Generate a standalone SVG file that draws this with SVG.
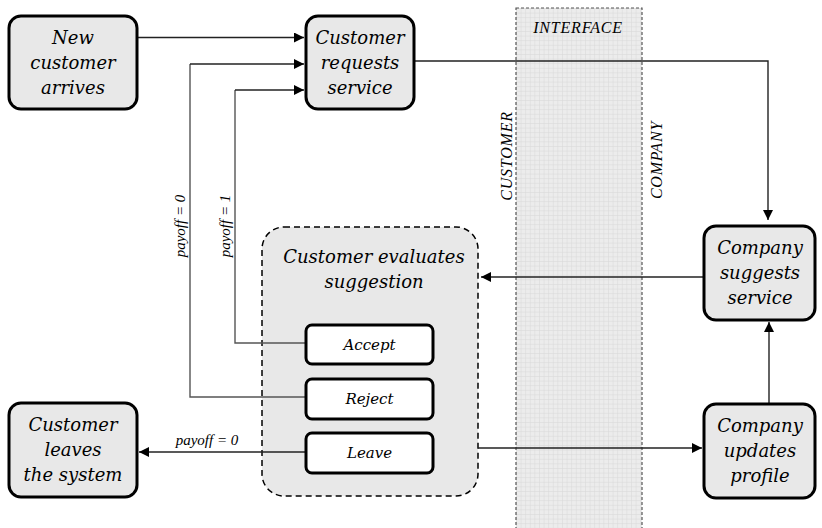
<svg xmlns="http://www.w3.org/2000/svg" width="822" height="528" viewBox="0 0 822 528">
<defs>
<pattern id="grid" width="4.6" height="4.6" patternUnits="userSpaceOnUse" x="516" y="8">
<rect width="4.6" height="4.6" fill="#ececec"/>
<path d="M0 0.3H4.6M0.3 0V4.6" stroke="#d9d9d9" stroke-width="0.6" fill="none"/>
</pattern>
<marker id="ah" viewBox="0 0 10 10" refX="10" refY="5" markerWidth="10" markerHeight="10" markerUnits="userSpaceOnUse" orient="auto">
<path d="M0 0L10 5L0 10z" fill="#000"/>
</marker>
<style>
.node{fill:#e8e8e8;stroke:#000;stroke-width:3}
.opt{fill:#fff;stroke:#000;stroke-width:3}
.c{fill:none;stroke:#222;stroke-width:1.4}
.cg{fill:none;stroke:#555;stroke-width:1.4}
</style>
</defs>
<rect width="822" height="528" fill="#fff"/>
<g id="interface">
<rect x="516" y="8" width="126" height="530" fill="url(#grid)" stroke="#555" stroke-width="1.2" stroke-dasharray="3 2"/>
<text x="578" y="33" font-family="Liberation Serif" font-style="italic" font-size="16" letter-spacing="0.8" text-anchor="middle">INTERFACE</text>
<text transform="translate(512,156) rotate(-90)" font-family="Liberation Serif" font-style="italic" font-size="16" letter-spacing="0.8" text-anchor="middle">CUSTOMER</text>
<text transform="translate(662,160) rotate(-90)" font-family="Liberation Serif" font-style="italic" font-size="16" letter-spacing="0.8" text-anchor="middle">COMPANY</text>
</g>
<g id="evaluate">
<rect x="262" y="227" width="216" height="269" rx="22" fill="#e8e8e8" stroke="#000" stroke-width="1.5" stroke-dasharray="6 4"/>
<text x="374" y="263" font-family="DejaVu Serif" font-style="italic" font-size="18" text-anchor="middle">Customer evaluates</text>
<text x="374" y="288" font-family="DejaVu Serif" font-style="italic" font-size="18" text-anchor="middle">suggestion</text>
</g>
<g id="connectors">
<path class="c" d="M137 37.5H304" marker-end="url(#ah)"/>
<path class="cg" d="M306 397H190V64"/>
<path class="c" d="M190 64H304" marker-end="url(#ah)"/>
<path class="cg" d="M306 343H235V90"/>
<path class="c" d="M235 90H304" marker-end="url(#ah)"/>
<path class="c" d="M414 61H768V220" marker-end="url(#ah)"/>
<path class="c" d="M704 277H481" marker-end="url(#ah)"/>
<path class="c" d="M769 404V322" marker-end="url(#ah)"/>
<path class="c" d="M478 448H702" marker-end="url(#ah)"/>
<path class="c" d="M306 452H139" marker-end="url(#ah)"/>
<text x="207" y="445" font-family="Liberation Serif" font-style="italic" font-size="15" text-anchor="middle">payoff = 0</text>
<text transform="translate(185,226) rotate(-90)" font-family="Liberation Serif" font-style="italic" font-size="15" text-anchor="middle">payoff = 0</text>
<text transform="translate(230,226) rotate(-90)" font-family="Liberation Serif" font-style="italic" font-size="15" text-anchor="middle">payoff = 1</text>
</g>
<g id="new-customer">
<rect class="node" x="9" y="16" width="128" height="93" rx="12"/>
<text x="73" y="44" font-family="DejaVu Serif" font-style="italic" font-size="18" text-anchor="middle">New</text>
<text x="73" y="69" font-family="DejaVu Serif" font-style="italic" font-size="18" text-anchor="middle">customer</text>
<text x="73" y="94" font-family="DejaVu Serif" font-style="italic" font-size="18" text-anchor="middle">arrives</text>
</g>
<g id="customer-requests">
<rect class="node" x="306" y="16" width="108" height="93" rx="12"/>
<text x="360" y="44" font-family="DejaVu Serif" font-style="italic" font-size="18" text-anchor="middle">Customer</text>
<text x="360" y="69" font-family="DejaVu Serif" font-style="italic" font-size="18" text-anchor="middle">requests</text>
<text x="360" y="94" font-family="DejaVu Serif" font-style="italic" font-size="18" text-anchor="middle">service</text>
</g>
<g id="company-suggests">
<rect class="node" x="704" y="226" width="111" height="94" rx="12"/>
<text x="760" y="254" font-family="DejaVu Serif" font-style="italic" font-size="18" text-anchor="middle">Company</text>
<text x="760" y="279" font-family="DejaVu Serif" font-style="italic" font-size="18" text-anchor="middle">suggests</text>
<text x="760" y="304" font-family="DejaVu Serif" font-style="italic" font-size="18" text-anchor="middle">service</text>
</g>
<g id="company-updates">
<rect class="node" x="704" y="404" width="111" height="94" rx="12"/>
<text x="760" y="432" font-family="DejaVu Serif" font-style="italic" font-size="18" text-anchor="middle">Company</text>
<text x="760" y="457" font-family="DejaVu Serif" font-style="italic" font-size="18" text-anchor="middle">updates</text>
<text x="760" y="482" font-family="DejaVu Serif" font-style="italic" font-size="18" text-anchor="middle">profile</text>
</g>
<g id="customer-leaves">
<rect class="node" x="9" y="403" width="128" height="94" rx="12"/>
<text x="73" y="431" font-family="DejaVu Serif" font-style="italic" font-size="18" text-anchor="middle">Customer</text>
<text x="73" y="456" font-family="DejaVu Serif" font-style="italic" font-size="18" text-anchor="middle">leaves</text>
<text x="73" y="481" font-family="DejaVu Serif" font-style="italic" font-size="18" text-anchor="middle">the system</text>
</g>
<g id="accept">
<rect class="opt" x="306" y="325" width="127" height="39" rx="6"/>
<text x="369.5" y="350" font-family="DejaVu Serif" font-style="italic" font-size="15" text-anchor="middle">Accept</text>
</g>
<g id="reject">
<rect class="opt" x="306" y="379" width="127" height="40" rx="6"/>
<text x="369.5" y="404" font-family="DejaVu Serif" font-style="italic" font-size="15" text-anchor="middle">Reject</text>
</g>
<g id="leave">
<rect class="opt" x="306" y="433" width="127" height="40" rx="6"/>
<text x="369.5" y="458" font-family="DejaVu Serif" font-style="italic" font-size="15" text-anchor="middle">Leave</text>
</g>
</svg>
